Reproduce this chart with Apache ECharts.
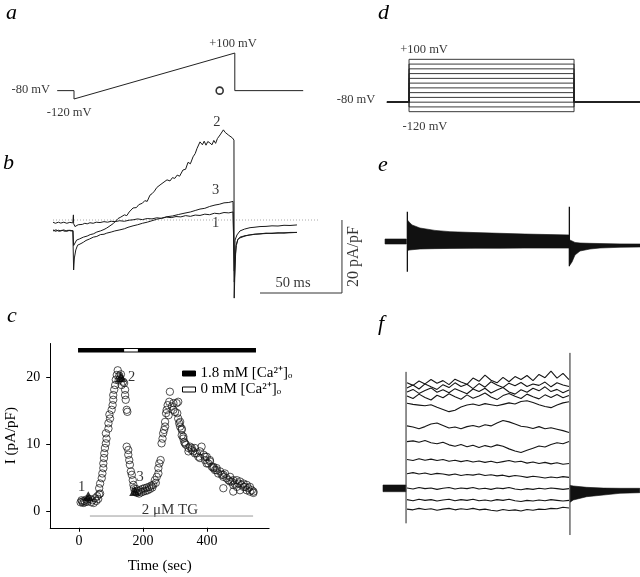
<!DOCTYPE html>
<html><head><meta charset="utf-8">
<script src="https://cdn.jsdelivr.net/npm/echarts@6/dist/echarts.min.js"></script>
<style>html,body{margin:0;padding:0;background:#fff}#c{width:640px;height:577px}</style>
</head><body><div id="c"></div>
<script>
const SERIF = "'Liberation Serif','Times New Roman',serif";
// ---- panel a: ramp protocol (ms, mV)
const aTime = [-14, 0, 0, 134, 134, 191];
const aVolt = [-80, -80, -120, 100, -80, -80];
const aMark = [121.4, -80];
const aLabels = [['-80 mV', -36, -77], ['+100 mV', 132.5, 146], ['-120 mV', -4, -187]];
// ---- panel b: ramp currents (ms, pA/pF)
const b1 = [[-17.5,-0.6],[-15.5,-0.9],[-13,-0.6],[-11,-0.85],[-8.5,-0.6],[-6,-0.9],[-3.5,-0.65],[-1,-0.8],
 [-0.5,1.4],[-0.3,-1.0],[0.8,-1.8],[1.7,-1.4],[3.5,-1.3],[5,-1.0],[7,-1.2],[9,-0.9],[11,-1.05],[13.3,-0.75],[16,-0.9],[18.5,-0.6],[21.7,-0.7],[25,-0.45],[28,-0.6],[31,-0.35],[34.2,-0.45],[38,-0.2],[42,-0.35],[46,-0.05],[49.2,0.05],[53,0.3],[57,0.1],[61,0.4],[65,0.3],[69,0.6],[73,0.45],[77,0.8],[81,0.65],[85,0.95],[89,0.85],[93,1.2],[97,1.0],[101,1.35],[105,1.25],[109,1.6],[113,1.45],[117,1.85],[121,1.7],[125,2.05],[129,1.95],[132.5,2.2],
 [133.3,2.0],[133.6,-14],[134.2,-5.5],[135.8,-4.1],[138.3,-3.0],[142,-2.5],[146.7,-2.1],[150,-2.0],[155,-1.8],[160,-1.75],[165,-1.6],[170,-1.65],[175,-1.45],[180,-1.5],[185.8,-1.35]];
const b2 = [[-17.5,-3.0],[-15,-2.7],[-12.5,-3.1],[-10,-2.8],[-7.5,-3.1],[-5,-2.8],[-2.5,-3.0],[-0.8,-2.9],
 [-0.6,-2.9],[-0.3,-7],[0.5,-6.5],[2.2,-5.5],[4.5,-5.2],[7.8,-4.7],[11,-4.4],[13.5,-4.0],[16.1,-3.8],[19,-3.3],[22,-3.0],[25,-2.6],[27.3,-2.2],[30,-1.6],[33,-0.9],[36.7,0.4],[39,0.8],[42,1.4],[44,1.2],[46,2.2],[49.2,3.3],[52,3.4],[54,4.2],[57,4.6],[59,5.3],[61,5.1],[63.3,6.8],[65,7.2],[67,7.9],[69,8.9],[71.7,9.6],[73,9.2],[75,10.4],[77.5,11.0],[80,10.7],[82,11.6],[84,11.4],[86,12.3],[88,12.0],[90.8,13.7],[93,13.9],[95,15.8],[97,15.4],[99.2,17.3],[101,18.2],[102.5,19.6],[104,19.4],[105,21.4],[107,20.6],[108.5,21.6],[110,20.5],[111.5,21.5],[113.3,21.1],[115,20.6],[116.5,21.8],[118,21.0],[119.5,22.3],[121.7,23.3],[123,23.0],[124.5,24.7],[126,24.0],[127.5,24.4],[129,23.2],[130.5,22.7],[132,22.5],[133.3,21.9],
 [133.5,-21.4],[134.5,-9.5],[135.3,-7],[136.5,-5.3],[138.3,-4.9],[142.5,-4.4],[146,-4.1],[150,-3.9],[155,-3.8],[160,-3.6],[165,-3.7],[170,-3.5],[175,-3.6],[180,-3.4],[185.8,-3.4]];
const b3 = [[-17.5,-2.7],[-15.5,-3.1],[-13,-2.8],[-11,-3.0],[-8.5,-2.7],[-6,-3.1],[-3.5,-2.8],[-1,-3.0],
 [-0.4,-3.0],[-0.3,-13.7],[0.3,-10.4],[1.5,-8.2],[3,-6.9],[5,-6.6],[7.8,-6.1],[10,-5.6],[13,-5.2],[16.1,-4.7],[19,-4.5],[22,-4.0],[25,-3.9],[27.3,-3.6],[31,-3.3],[34,-3.0],[38.3,-2.7],[42,-2.4],[45,-2.0],[49.2,-1.6],[53,-1.3],[57,-0.9],[61,-0.6],[65,-0.2],[68.9,0.2],[73,0.5],[77.5,0.9],[82,1.1],[87,1.5],[92.5,1.9],[97,2.2],[101,2.6],[105,3.0],[109,3.2],[113,3.7],[117.5,4.1],[121,4.3],[125,4.7],[129,4.8],[132.5,5.1],
 [133.3,5.0],[133.6,-17],[135,-7],[136.5,-5.4],[138.3,-4.7],[142.5,-4.3],[147,-4.1],[151,-3.9],[155,-3.8],[160,-3.7],[165,-3.6],[170,-3.6],[175,-3.5],[180,-3.5],[185.8,-3.4]];
const bZero = [[-17.5, 0], [205, 0]];
const bScale = [[155, -20], [223.3, -20], [223.3, 0]];
const bLabels = [['2', 119, 26.8], ['3', 118, 8.2], ['1', 118, -0.9], ['50 ms', 182.5, -17.3]];
const bScaleLabel = ['20 pA/pF', 232.8, -10];
// ---- panel c: time course (sec, pA/pF)
const cTime = [5,8,10,13,16,19,22,25,34,38,42,46,50,54,57,60,63,
 66,63,66,71,73,76,76,78,79,81,84,86,84,92,92,97,95,102,105,107,107,110,113,115,118,121,124,126,
 128,131,133,138,141,144,144,146,149,151,149,154,154,157,159,162,165,168,170,
 172,175,178,181,185,188,191,195,198,201,205,208,212,215,219,222,226,229,232,
 237,240,243,248,248,251,255,258,261,263,266,269,269,272,274,277,280,282,284,
 290,295,295,300,305,307,310,310,313,316,316,321,321,321,326,326,329,331,334,342,342,347,352,352,357,362,362,368,373,378,378,383,389,394,394,399,399,404,409,409,415,420,420,425,430,430,435,441,446,451,451,451,456,461,467,472,472,477,482,482,482,487,493,493,498,503,503,508,514,514,519,524,524,529,534,534,540,545,545];
const cCurrent = [1.3,1.6,1.4,1.2,1.5,1.3,1.7,1.4,1.8,1.3,1.6,1.2,1.9,1.5,2.2,1.8,2.5,
 2.6,3.4,4.1,4.9,5.6,6.4,7.1,7.9,8.6,9.4,10.1,10.8,11.6,12.3,13.1,13.8,14.4,15.1,15.8,16.6,17.3,18.1,18.8,19.6,20.3,21.0,19.5,20.2,
 19.8,20.4,18.8,19.3,19.1,18.1,17.3,16.6,15.1,14.8,9.6,9.1,8.4,7.6,6.9,5.9,5.4,4.6,3.9,
 3.4,2.9,3.3,2.7,3.0,2.6,3.1,2.8,3.3,2.9,3.4,3.0,3.5,3.1,3.6,3.3,3.8,3.5,3.9,
 4.6,4.2,5.1,5.6,6.4,7.1,7.6,10.1,10.8,11.6,12.1,12.6,13.3,14.6,15.1,15.8,14.3,16.3,17.8,
 15.6,16.1,15.1,14.8,16.1,14.6,16.3,13.8,13.1,12.6,13.3,12.1,11.3,12.3,10.8,11.1,10.3,10.1,9.9,9.4,8.9,9.6,9.1,9.4,8.9,9.4,8.6,8.6,8.1,8.9,7.9,9.6,8.4,7.6,8.1,8.1,7.1,7.1,7.4,7.6,6.6,6.4,6.6,6.1,6.1,6.4,5.6,5.9,5.4,5.1,5.4,3.4,5.6,4.9,4.6,5.1,4.4,4.4,4.6,3.9,2.9,4.1,4.6,3.6,4.1,4.4,3.1,3.9,4.1,3.6,3.6,3.9,3.1,3.4,3.6,2.9,3.1,2.9,2.7];
const cMarkTime = [29, 131, 174];
const cMarkCurrent = [2.2, 20.0, 3.0];
const cMarkNames = ['1', '2', '3'];
const cMarkLabelPos = [[8.4, 3.6], [164.6, 20.0], [190.6, 5.1]];
const caHigh = [[-3, 24], [553, 24]];
const caZero = [[141, 24], [184, 24]];
const tgLine = [[34, -0.75], [544, -0.75]];
const tgLabel = ['2 μM TG', 284, 0.1];
const CA1 = '1.8 mM [Ca²⁺]ₒ', CA0 = '0 mM [Ca²⁺]ₒ';
const cXTicks = [0, 200, 400], cYTicks = [0, 10, 20];
// ---- panel d: step protocol (ms, mV)
const dLevels = [-120,-100,-80,-60,-40,-20,0,20,40,60,80,100];
const dHold = -80, dT0 = -16.7, dOn = 1.7, dOff = 139.2, dT1 = 194;
const dLabels = [['+100 mV', 14.2, 139], ['-80 mV', -42.5, -71], ['-120 mV', 15, -184]];
// ---- panel e: control family envelope (ms, pA/pF)
const ePreT = [-18.3, -0.5], ePreUp = [0.74, 0.74], ePreLo = [-0.63, -0.63];
const ePulseT = [0.5, 1.7, 4.2, 10.8, 23.3, 35.8, 56.7, 77.5, 98.3, 119.2, 135.3];
const ePulseUp = [5.9, 5.4, 4.6, 3.75, 3.1, 2.75, 2.5, 2.3, 2.1, 1.95, 1.85];
const ePulseLo = [-2.4, -2.3, -2.2, -2.0, -1.9, -1.85, -1.8, -1.8, -1.75, -1.75, -1.75];
const eTailT = [135.5, 137.5, 140, 144.2, 152.5, 160.8, 177.5, 194.2];
const eTailUp = [0.5, 0.2, -0.2, -0.36, -0.45, -0.5, -0.6, -0.63];
const eTailLo = [-6.5, -5.56, -3.64, -2.55, -2.0, -1.73, -1.53, -1.45];
const eSpikeOn = [[0.3, 8.2], [0.3, -8.2]], eSpikeOff = [[135.3, 9.6], [135.3, -6.7]];
// ---- panel f: TG family traces (ms, pA/pF)
const fTime = [0,5,10,15,20,25,30,35,40,45,50,55,60,65,70,75,80,85,90,95,100,105,110,115,120,125,130,135];
const fTraces = [
 [-5.7,-5.9,-5.5,-5.8,-5.6,-6.0,-5.7,-5.5,-5.9,-5.6,-5.8,-5.5,-5.9,-5.7,-6.0,-6.2,-5.8,-6.1,-5.9,-6.2,-5.8,-6.0,-5.7,-5.8,-5.5,-5.6,-5.2,-5.4],
 [-3.1,-3.4,-3.0,-3.3,-3.1,-3.5,-3.2,-3.0,-3.4,-3.1,-3.3,-3.0,-3.4,-3.2,-3.5,-3.1,-3.3,-3.0,-3.4,-3.6,-3.3,-3.5,-3.2,-3.4,-3.1,-3.3,-3.5,-3.3],
 [0.1,-0.2,0.2,-0.1,0.1,-0.3,0.0,0.2,-0.2,0.1,-0.1,0.2,-0.2,0.0,-0.3,0.1,-0.1,0.2,-0.2,-0.4,-0.1,-0.3,0.0,-0.2,0.1,-0.1,-0.3,-0.1],
 [4.0,4.3,3.9,4.2,3.8,4.1,3.9,3.6,3.9,3.5,3.8,3.6,3.9,3.5,3.7,3.4,3.6,3.2,3.5,3.3,3.0,3.3,3.1,2.8,3.1,2.9,3.2,3.0],
 [7.9,7.6,8.1,7.7,8.0,7.6,7.9,7.4,7.7,7.3,7.6,7.2,7.5,7.1,7.4,7.0,7.3,7.6,7.2,7.4,6.9,7.2,6.8,7.1,6.7,7.0,6.6,6.8],
 [12.8,13.0,12.6,13.1,12.5,12.2,12.6,11.9,11.5,12.0,11.4,11.8,11.2,11.7,11.3,11.9,11.5,10.8,10.2,9.8,10.4,11.0,11.6,11.3,12.0,12.5,12.2,12.8],
 [17.1,16.8,16.3,16.9,17.6,17.9,17.2,16.5,16.8,16.3,16.9,17.2,16.8,17.4,17.1,17.9,18.6,18.2,17.6,17.0,16.8,16.4,16.9,16.3,16.6,16.2,15.8,15.3],
 [23.3,23.0,22.8,22.6,22.9,22.2,21.6,21.0,21.4,22.3,22.8,23.1,22.7,23.2,22.9,22.6,23.0,23.4,23.1,23.8,24.0,23.5,22.9,22.4,22.1,22.8,23.4,23.7],
 [25.3,24.6,25.8,24.9,24.2,25.5,24.8,25.9,25.1,24.4,25.6,24.7,25.3,26.1,25.0,24.3,25.4,26.0,25.2,24.6,25.8,25.1,24.5,25.6,24.9,25.7,24.8,25.4],
 [26.4,27.1,26.0,26.8,27.5,26.3,27.0,26.2,27.3,26.6,25.9,27.2,26.5,27.4,26.1,26.9,27.6,26.4,25.8,27.0,26.3,27.4,26.7,27.8,26.5,27.1,26.2,26.9],
 [27.5,28.3,27.2,28.6,27.8,27.1,28.4,27.6,28.9,27.9,28.5,27.3,28.7,27.7,29.2,28.3,27.6,28.8,28.1,29.0,27.9,28.6,28.2,29.1,27.8,28.9,28.3,27.9],
 [28.9,28.2,29.4,28.6,29.8,28.8,29.5,28.4,29.9,29.1,28.5,30.2,29.3,31.0,29.6,28.9,30.4,29.2,30.6,29.8,30.9,29.5,31.2,30.3,32.1,30.2,31.5,29.8]];
const fPreT = [-20, -1], fPreUp = [0.9, 0.9], fPreLo = [-0.93, -0.93];
const fTailT = [136, 138.6, 149.7, 163.6, 177.5, 194];
const fTailUp = [0.8, 0.63, 0.27, 0.05, 0.0, 0.0];
const fTailLo = [-3.8, -3.2, -2.3, -1.84, -1.37, -1.2];
const fEdgeOn = [[-0.8, 31.9], [-0.8, -9.6]], fEdgeOff = [[135.8, 37.1], [135.8, -12.8]];

// ---------------- build ----------------
const chart = echarts.init(document.getElementById('c'), null, {renderer: 'canvas'});
const grids = [
  {left: 2, top: 40.5, width: 360, height: 75.2},       // a
  {left: 2, top: 110.5, width: 360, height: 189.8},     // b
  {left: 50.2, top: 343.5, width: 218.9, height: 184.25}, // c
  {left: 383, top: 49.8, width: 256.8, height: 71.4},   // d
  {left: 383, top: 194.25, width: 256.8, height: 105.85}, // e
  {left: 383, top: 345.95, width: 256.8, height: 200.75}  // f
];
const xr = [[-60,240],[-60,240],[-90,594],[-20,194],[-20,194],[-20,194]];
const yr = [[-200,160],[-22,30],[-2.5,25],[-160,140],[-16,13],[-16,39]];
const axisFont = {color: '#000', fontFamily: SERIF, fontSize: 14};
const xAxes = xr.map((r, i) => ({type: 'value', gridIndex: i, min: r[0], max: r[1], show: i === 2}));
const yAxes = yr.map((r, i) => ({type: 'value', gridIndex: i, min: r[0], max: r[1], show: i === 2}));
Object.assign(xAxes[2], {
  axisLine: {show: true, onZero: false, lineStyle: {color: '#000', width: 1}},
  axisTick: {show: true, inside: false, length: 4, customValues: cXTicks, lineStyle: {color: '#000'}},
  axisLabel: Object.assign({customValues: cXTicks, margin: 7}, axisFont),
  splitLine: {show: false},
  name: 'Time (sec)', nameLocation: 'middle', nameGap: 31,
  nameTextStyle: {color: '#000', fontFamily: SERIF, fontSize: 15}
});
Object.assign(yAxes[2], {
  axisLine: {show: true, onZero: false, lineStyle: {color: '#000', width: 1}},
  axisTick: {show: true, inside: false, length: 4, customValues: cYTicks, lineStyle: {color: '#000'}},
  axisLabel: Object.assign({customValues: cYTicks, margin: 10}, axisFont),
  splitLine: {show: false},
  name: 'I (pA/pF)', nameLocation: 'middle', nameGap: 32,
  nameTextStyle: {color: '#000', fontFamily: SERIF, fontSize: 15}
});

function line(i, data, extra) {
  return Object.assign({type: 'line', xAxisIndex: i, yAxisIndex: i, data: data, symbol: 'none', showSymbol: false,
    clip: false, silent: true, animation: false, lineStyle: {color: '#111', width: 1}}, extra || {});
}
function texts(i, items, size, extra) {
  return Object.assign({type: 'scatter', xAxisIndex: i, yAxisIndex: i, symbolSize: 1, clip: false, silent: true,
    itemStyle: {color: 'rgba(0,0,0,0)'},
    data: items.map(d => ({name: d[0], value: [d[1], d[2]]})),
    label: {show: true, position: 'inside', formatter: '{b}', color: '#000', fontFamily: SERIF, fontSize: size}}, extra || {});
}
function band(i, T, U, L, color) {
  return {type: 'custom', xAxisIndex: i, yAxisIndex: i, silent: true, clip: false,
    data: T.map((t, k) => [t, U[k], L[k]]), encode: {x: 0, y: [1, 2]},
    renderItem: function (params, api) {
      if (params.dataIndex !== 0) return null;
      const pts = [];
      for (let k = 0; k < T.length; k++) pts.push(api.coord([T[k], U[k]]));
      for (let k = T.length - 1; k >= 0; k--) pts.push(api.coord([T[k], L[k]]));
      return {type: 'polygon', shape: {points: pts}, style: {fill: color, stroke: color, lineWidth: 0.6}};
    }};
}

const series = [];
// a
series.push(line(0, aTime.map((t, k) => [t, aVolt[k]]), {lineStyle: {color: '#222', width: 1}}));
series.push({type: 'scatter', xAxisIndex: 0, yAxisIndex: 0, data: [aMark], symbol: 'circle', symbolSize: 7, silent: true,
  itemStyle: {color: '#fff', borderColor: '#000', borderWidth: 1.6}});
series.push(texts(0, aLabels, 12.5));
// b
series.push(line(1, bZero, {lineStyle: {color: '#aaa', width: 1, type: [1, 2]}}));
[b1, b2, b3].forEach(tr => series.push(line(1, tr, {lineStyle: {color: '#1a1a1a', width: 1}})));
series.push(line(1, bScale, {lineStyle: {color: '#333', width: 1}}));
series.push(texts(1, bLabels, 14.5));
series.push(texts(1, [bScaleLabel], 16, {label: {show: true, position: 'inside', formatter: '{b}', rotate: 90, color: '#000', fontFamily: SERIF, fontSize: 16}}));
// c
series.push(line(2, caHigh, {name: CA1, lineStyle: {color: '#000', width: 4.6}}));
series.push(line(2, caZero, {name: CA0, lineStyle: {color: '#fff', width: 2.4}}));
series.push(line(2, tgLine, {lineStyle: {color: '#999', width: 1}}));
series.push({type: 'scatter', xAxisIndex: 2, yAxisIndex: 2, silent: true, symbol: 'circle', symbolSize: 7.4,
  data: cTime.map((t, k) => [t, cCurrent[k]]),
  itemStyle: {color: 'rgba(255,255,255,0)', borderColor: '#111', borderWidth: 0.9}});
series.push({type: 'scatter', xAxisIndex: 2, yAxisIndex: 2, silent: true, symbol: 'triangle', symbolSize: [11, 10],
  data: cMarkTime.map((t, k) => [t, cMarkCurrent[k]]), itemStyle: {color: '#000'}});
series.push(texts(2, cMarkNames.map((n, k) => [n, cMarkLabelPos[k][0], cMarkLabelPos[k][1]]), 14.5));
series.push(texts(2, [tgLabel], 15));
// d
dLevels.forEach(v => series.push(line(3, [[dT0, dHold], [dOn, dHold], [dOn, v], [dOff, v], [dOff, dHold], [dT1, dHold]],
  {lineStyle: {color: '#222', width: 0.9}})));
series.push(texts(3, dLabels, 12.5));
// e
series.push(band(4, ePreT, ePreUp, ePreLo, '#111'));
series.push(band(4, ePulseT, ePulseUp, ePulseLo, '#111'));
series.push(band(4, eTailT, eTailUp, eTailLo, '#111'));
series.push(line(4, eSpikeOn, {lineStyle: {color: '#111', width: 1.3}}));
series.push(line(4, eSpikeOff, {lineStyle: {color: '#111', width: 1.3}}));
// f
series.push(band(5, fPreT, fPreUp, fPreLo, '#111'));
series.push(band(5, fTailT, fTailUp, fTailLo, '#111'));
fTraces.forEach(tr => series.push(line(5, fTime.map((t, k) => [t, tr[k]]), {lineStyle: {color: '#151515', width: 1.1}})));
series.push(line(5, fEdgeOn, {lineStyle: {color: '#222', width: 1}}));
series.push(line(5, fEdgeOff, {lineStyle: {color: '#222', width: 1}}));

const letter = (t, l, tp) => ({text: t, left: l, top: tp, padding: 0,
  textStyle: {fontFamily: SERIF, fontStyle: 'italic', fontWeight: 'normal', fontSize: 22, color: '#000'}});

chart.setOption({
  animation: false,
  backgroundColor: '#fff',
  title: [letter('a', 6, 2), letter('b', 3, 152), letter('c', 7, 305), letter('d', 378, 2), letter('e', 378, 154), letter('f', 378, 313)],
  grid: grids,
  xAxis: xAxes,
  yAxis: yAxes,
  legend: {show: true, orient: 'vertical', left: 177, top: 361, itemWidth: 13, itemHeight: 5, itemGap: 1,
    selectedMode: false,
    textStyle: {fontFamily: SERIF, fontSize: 15, color: '#000', lineHeight: 13},
    data: [{name: CA1, icon: 'rect', itemStyle: {color: '#000', borderColor: '#000', borderWidth: 1}},
           {name: CA0, icon: 'rect', itemStyle: {color: '#fff', borderColor: '#000', borderWidth: 1}}]},
  series: series
});
</script></body></html>
